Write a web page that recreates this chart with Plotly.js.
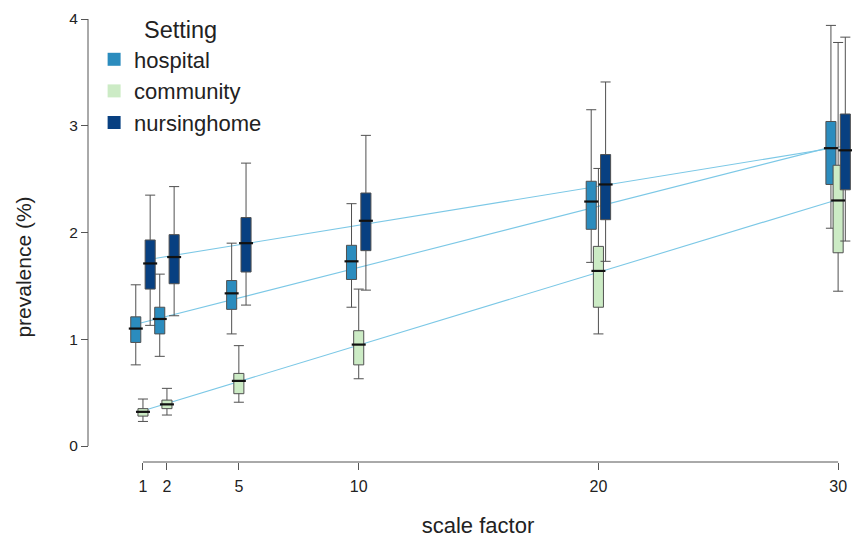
<!DOCTYPE html>
<html>
<head>
<meta charset="utf-8">
<script src="https://cdn.plot.ly/plotly-3.0.1.min.js"></script>
<style>html,body{margin:0;padding:0;background:#fff}#chart{width:852px;height:540px}</style>
</head>
<body>
<div id="chart"></div>
<script>
// ---- data ----
const scaleFactors = [1, 2, 5, 10, 20, 30];
const settings = ["hospital", "community", "nursinghome"];

const hospitalLower  = [0.76, 0.84, 1.05, 1.30, 1.72, 2.04];
const hospitalQ1     = [0.97, 1.05, 1.28, 1.56, 2.03, 2.45];
const hospitalMedian = [1.10, 1.19, 1.43, 1.73, 2.29, 2.79];
const hospitalQ3     = [1.21, 1.30, 1.55, 1.88, 2.48, 3.04];
const hospitalUpper  = [1.51, 1.61, 1.90, 2.27, 3.15, 3.94];

const communityLower  = [0.23, 0.29, 0.41, 0.63, 1.05, 1.45];
const communityQ1     = [0.28, 0.35, 0.49, 0.76, 1.30, 1.81];
const communityMedian = [0.32, 0.39, 0.61, 0.95, 1.64, 2.30];
const communityQ3     = [0.35, 0.43, 0.68, 1.08, 1.87, 2.63];
const communityUpper  = [0.44, 0.54, 0.94, 1.47, 2.60, 3.78];

const nursingLower  = [1.13, 1.22, 1.32, 1.46, 1.73, 1.92];
const nursingQ1     = [1.47, 1.52, 1.63, 1.83, 2.12, 2.40];
const nursingMedian = [1.71, 1.77, 1.90, 2.11, 2.45, 2.77];
const nursingQ3     = [1.93, 1.98, 2.14, 2.37, 2.73, 3.11];
const nursingUpper  = [2.35, 2.43, 2.65, 2.91, 3.41, 3.83];

// trend lines: value at first and last scale factor, per setting
const trendStart = [1.14, 0.33, 1.75];
const trendEnd   = [2.80, 2.31, 2.81];

const yTicks = [0, 1, 2, 3, 4];

// ---- styling ----
const colors = ["#2b8cbe", "#ccebc5", "#084081"];
const offsets = [-0.3, 0, 0.3];
const boxWidth = 0.42;
const FONT = "Liberation Sans, Arial, Helvetica, sans-serif";

const stats = [
  [hospitalLower, hospitalQ1, hospitalMedian, hospitalQ3, hospitalUpper],
  [communityLower, communityQ1, communityMedian, communityQ3, communityUpper],
  [nursingLower, nursingQ1, nursingMedian, nursingQ3, nursingUpper]
];

const traces = [];
// trend lines (behind boxes, base axes)
settings.forEach((s, i) => {
  const x0 = scaleFactors[0] + offsets[i];
  const x1 = scaleFactors[scaleFactors.length - 1] + offsets[i];
  traces.push({
    type: "scatter", mode: "lines", x: [x0, x1], y: [trendStart[i], trendEnd[i]],
    line: {color: "#7cc8e6", width: 1.1}, showlegend: false, hoverinfo: "skip",
    xaxis: "x", yaxis: "y"
  });
});
// boxes (overlay axes)
settings.forEach((s, i) => {
  const [lo, q1, med, q3, up] = stats[i];
  const xs = scaleFactors.map(v => v + offsets[i]);
  traces.push({
    type: "box", name: s, x: xs, q1: q1, median: med, q3: q3,
    lowerfence: lo, upperfence: up, width: boxWidth, whiskerwidth: 1,
    fillcolor: colors[i], line: {color: "#505050", width: 1},
    boxpoints: false, showlegend: false, xaxis: "x2", yaxis: "y2"
  });
});
// medians (thick black)
settings.forEach((s, i) => {
  traces.push({
    type: "scatter", mode: "markers",
    x: scaleFactors.map(v => v + offsets[i]), y: stats[i][2],
    marker: {symbol: "line-ew", size: 10, line: {width: 2.2, color: "#111"}},
    showlegend: false, hoverinfo: "skip", xaxis: "x2", yaxis: "y2"
  });
});
// legend entries
settings.forEach((s, i) => {
  traces.push({
    type: "scatter", mode: "markers", x: [null], y: [null], name: s,
    marker: {symbol: "square", size: 13, color: colors[i], line: {width: 0}},
    showlegend: true, xaxis: "x2", yaxis: "y2"
  });
});

// plot geometry: x-domain starts a little right of the y-axis line, y-domain
// extends below the x-axis line (R-style detached axes)
const xDomain = [0.0209, 1];
const xRange = [-0.627, 30.579];
const yRange = [-0.7307, 4.0843];
const xAxisPos = 0.1206;

const layout = {
  width: 852, height: 540,
  margin: {l: 88, r: 0, t: 10, b: 16},
  paper_bgcolor: "#fff", plot_bgcolor: "#fff",
  font: {family: FONT, color: "#222"},
  showlegend: true,
  legend: {
    x: 0.008, y: 1.004, xanchor: "left", yanchor: "top",
    bgcolor: "rgba(0,0,0,0)", font: {size: 22, family: FONT, color: "#222"},
    title: {text: "Setting", side: "top center", font: {size: 23.5, family: FONT, color: "#222"}},
    tracegroupgap: 0
  },
  xaxis: {
    domain: xDomain, range: xRange, anchor: "free", position: xAxisPos,
    tickvals: scaleFactors, ticktext: scaleFactors.map(String),
    ticks: "outside", ticklen: 7, tickcolor: "#555", tickwidth: 1,
    ticklabelstandoff: 3,
    showline: false, showgrid: false, zeroline: false,
    tickfont: {size: 16, family: FONT, color: "#222"},
    title: {text: "scale factor", font: {size: 22, family: FONT, color: "#222"}, standoff: 23},
    automargin: false
  },
  yaxis: {
    range: yRange, anchor: "free", position: 0,
    tickvals: yTicks, ticktext: yTicks.map(String),
    ticks: "outside", ticklen: 7, tickcolor: "#555", tickwidth: 1,
    showline: false, showgrid: false, zeroline: false,
    tickfont: {size: 15.5, family: FONT, color: "#222"},
    title: {text: "prevalence (%)", font: {size: 21, family: FONT, color: "#222"}, standoff: 30},
    automargin: false
  },
  xaxis2: {domain: xDomain, range: xRange, overlaying: "x", anchor: "y2", visible: false},
  yaxis2: {range: yRange, overlaying: "y", anchor: "x2", visible: false},
  shapes: [
    {type: "line", xref: "x", yref: "paper", x0: scaleFactors[0], x1: scaleFactors[scaleFactors.length-1],
     y0: xAxisPos, y1: xAxisPos, line: {color: "#555", width: 1}},
    {type: "line", xref: "paper", yref: "y", x0: 0, x1: 0, y0: yTicks[0], y1: yTicks[yTicks.length-1],
     line: {color: "#555", width: 1}}
  ]
};

Plotly.newPlot("chart", traces, layout, {staticPlot: true, displayModeBar: false});
</script>
</body>
</html>
